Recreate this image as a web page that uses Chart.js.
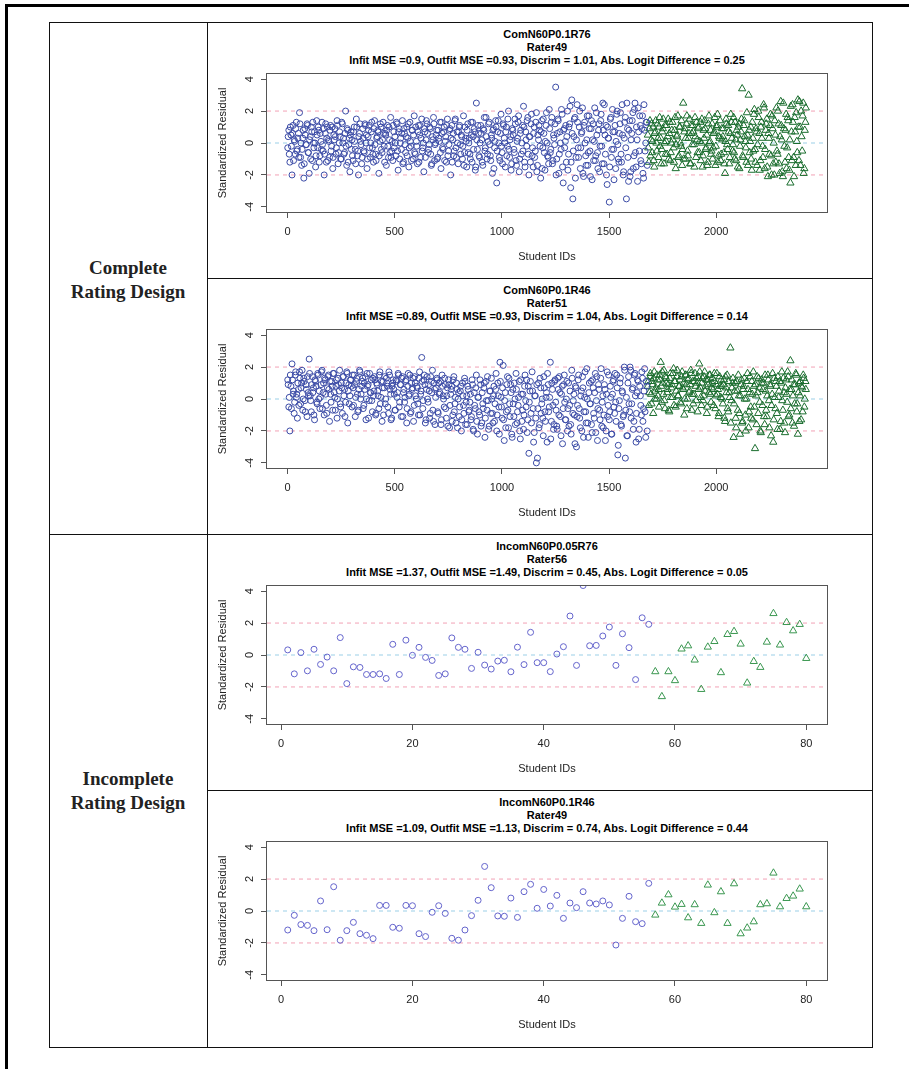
<!DOCTYPE html>
<html lang="en">

<head>
    <meta charset="UTF-8">
    <meta name="viewport" content="width=device-width, initial-scale=1.0">
    <title>Standardized Residual plots</title>
    <script src="https://cdn.jsdelivr.net/npm/chart.js"></script>
    <style>
        body {
            margin: 0;
            width: 909px;
            height: 1069px;
            background: #fff;
            position: relative;
            overflow: hidden;
            font-family: "Liberation Sans", Arial, sans-serif;
        }

        .moldura {
            position: absolute;
            left: 5px;
            top: 4px;
            width: 940px;
            height: 1100px;
            border-top: 3px solid #000;
            border-left: 3px solid #000;
        }

        .tabela {
            position: absolute;
            left: 49px;
            top: 22px;
            width: 824px;
            height: 1026px;
            box-sizing: border-box;
            border: 1px solid #111;
        }

        .linha {
            position: absolute;
            background: #111;
        }

        .design {
            position: absolute;
            left: 49px;
            width: 158px;
            text-align: center;
            font-family: "Liberation Serif", "Times New Roman", serif;
            font-weight: bold;
            font-size: 19px;
            line-height: 24px;
            color: #222;
        }

        .titulo {
            position: absolute;
            left: 267px;
            width: 560px;
            text-align: center;
            font-weight: bold;
            font-size: 11px;
            line-height: 13px;
            color: #000;
            white-space: nowrap;
        }

        canvas {
            position: absolute;
            left: 208px;
        }
    </style>
</head>

<body>

    <div class="moldura"></div>
    <div class="tabela"></div>
    <div class="linha" style="left: 207px; top: 22px; width: 1px; height: 1026px;"></div>
    <div class="linha" style="left: 207px; top: 278px; width: 666px; height: 1px;"></div>
    <div class="linha" style="left: 49px; top: 534px; width: 824px; height: 1px;"></div>
    <div class="linha" style="left: 207px; top: 790px; width: 666px; height: 1px;"></div>

    <div class="design" style="top: 256px;">Complete<br>Rating Design</div>
    <div class="design" style="top: 767px;">Incomplete<br>Rating Design</div>

    <div class="titulo" style="top: 28px;">ComN60P0.1R76<br>Rater49<br>Infit MSE =0.9, Outfit MSE =0.93, Discrim = 1.01, Abs. Logit Difference = 0.25</div>
    <div class="titulo" style="top: 284px;">ComN60P0.1R46<br>Rater51<br>Infit MSE =0.89, Outfit MSE =0.93, Discrim = 1.04, Abs. Logit Difference = 0.14</div>
    <div class="titulo" style="top: 540px;">IncomN60P0.05R76<br>Rater56<br>Infit MSE =1.37, Outfit MSE =1.49, Discrim = 0.45, Abs. Logit Difference = 0.05</div>
    <div class="titulo" style="top: 796px;">IncomN60P0.1R46<br>Rater49<br>Infit MSE =1.09, Outfit MSE =1.13, Discrim = 0.74, Abs. Logit Difference = 0.44</div>

    <canvas id="g1" width="663" height="256" style="top: 22px;"></canvas>
    <canvas id="g2" width="663" height="256" style="top: 278px;"></canvas>
    <canvas id="g3" width="663" height="256" style="top: 534px;"></canvas>
    <canvas id="g4" width="663" height="256" style="top: 790px;"></canvas>

</body>

</html>

<script>
    // complete design: values in tenths, read every 5th student id, two passes
    // pass A: blue ids 1, 6, 11 ... 1676 / green ids 1681 ... 2416
    // pass B: blue ids 3, 8, 13 ... 1678 / green ids 1683 ... 2418
    const denseStep = 5;
    const denseFirstBlueA = 1;
    const denseFirstBlueB = 3;
    const denseFirstGreenA = 1681;
    const denseFirstGreenB = 1683;
    const denseN = 2420;

    const comR76BlueA = [
        -3, 8, -12, 5, -20, 11, 2, -7, 13, -4,
        6, 19, -9, -14, 3, -22, 9, -1, 12, -6,
        -19, 4, 10, -11, 0, 7, -15, 14, -3, 8,
        -8, 1, 13, -5, -20, 6, -12, 10, 2, -9,
        11, -2, -16, 5, 9, -7, 14, -13, 0, 4,
        -10, 12, 3, -6, 20, -14, 8, -1, -18, 7,
        2, -11, 10, -4, 15, -8, -20, 6, 1, -13,
        9, -5, 12, 0, -16, 4, 11, -9, 7, -3,
        -12, 14, -7, 3, 8, -19, 1, 10, -6, 13,
        -2, 6, -14, 11, -9, 2, 16, -5, -11, 7,
        4, -8, 12, -17, 9, 0, -4, 14, -12, 6,
        -6, 10, 3, -15, 13, -2, 8, -10, 17, -7,
        1, -13, 11, 5, -9, 15, -3, -18, 7, 2,
        12, -6, -1, 9, -14, 4, 16, -11, 0, 8,
        -9, 3, 13, -16, 6, -4, 10, 1, -12, 15,
        -5, 8, -20, 11, 2, -8, 14, -3, 7, -13,
        10, -1, 5, -10, 17, -6, 3, -15, 12, 0,
        -7, 13, -12, 4, 9, -17, 25, -4, 6, -9,
        11, 2, -14, 8, -5, 16, -10, 1, 13, -8,
        5, -19, 9, -3, 14, -25, 7, 0, -11, 18,
        -6, 12, 3, -15, 10, -2, 20, -9, 4, -13,
        8, -4, 15, -11, 1, 13, -18, 6, -7, 11,
        23, -12, 7, -2, 16, -20, 4, 12, -8, -15,
        10, -5, 19, -14, 2, 8, -22, 14, -3, 6,
        -17, 11, 0, -9, 21, -6, 13, -13, 5, -1,
        35, -10, 15, -19, 7, -4, 18, -25, 9, 1,
        -12, 20, -7, 12, -28, 27, -35, 4, 16, -9,
        24, -3, 10, -16, 6, 22, -21, 13, -8, 2,
        -14, 17, -5, 9, -23, 12, 1, -11, 19, -6,
        8, -18, 14, -2, 25, -13, 5, 11, -26, 3,
        -37, 15, -9, 21, -4, 7, -16, 18, -1, -12,
        12, -7, 24, -20, 3, 16, -35, 9, -24, 14,
        -18, 6, 19, -8, 25, -15, 2, 22, -5, 11,
        -13, 17, -22, 8, 0, 13
    ];
    const comR76BlueB = [
        4, -7, 10, -2, 6, -11, 1, 9, -5, 3,
        -9, 12, 0, -4, 8, -13, 5, -1, 11, -6,
        2, -10, 7, 13, -3, 0, -8, 5, 10, -12,
        6, -4, -1, 9, -7, 12, 3, -11, 1, 8,
        -5, 10, -9, 2, 4, -3, 11, -6, 7, -10,
        13, 0, -7, 6, -2, 9, -12, 3, 5, -4,
        -8, 7, 1, -13, 10, -5, 4, 12, -1, -9,
        3, -6, 11, 5, -10, 8, -3, 0, 13, -7,
        9, -1, -11, 4, 7, -8, 12, -4, 2, 6,
        -12, 5, 8, -2, 10, -6, -9, 1, 11, -3,
        0, 13, -5, 7, -10, 3, 6, -13, 9, -1,
        4, -8, 12, -3, 1, -11, 8, 5, -6, 10,
        -2, 7, -12, 11, 3, -5, 0, 9, -9, 14,
        6, -4, 10, -7, -13, 2, 12, -1, 5, -10,
        8, 1, -6, 13, -3, 7, -11, 4, 11, -8,
        -1, 9, 3, -12, 6, -5, 15, -9, 0, 7,
        11, -7, 4, -2, -14, 10, 1, 8, -6, 3,
        -10, 5, 13, -4, 7, -15, 2, 11, -8, 0,
        6, -12, 9, 16, -3, 4, -7, 12, -1, -11,
        3, 8, -16, 1, 10, -5, 14, -9, 6, -2,
        -13, 11, 0, 7, -8, 15, -4, 2, -17, 9,
        5, -6, 12, -14, 3, 17, -10, 8, 0, -5,
        10, -15, 2, 14, -7, 4, -12, 18, -3, 6,
        -9, 13, -18, 5, 11, -2, 7, -16, 15, -6,
        1, 19, -8, -13, 9, -4, 16, -11, 3, 12,
        -20, 6, 14, -7, 0, 21, -15, 8, -3, 11,
        4, -17, 10, 23, -12, 6, -5, 15, -22, 2,
        13, -9, 20, -3, 7, -19, 11, 0, -14, 17,
        -6, 9, -21, 14, 2, -11, 22, -8, 5, -16,
        12, -2, 18, -13, 8, 24, -7, -20, 10, 3,
        -15, 16, -4, 7, -23, 11, 1, 20, -10, 6,
        19, -12, 5, -18, 13, -3, 25, -9, 8, -21,
        2, 14, -16, 21, -6, 10, -24, 7, 17, -11,
        9, -19, 24, -5, 13, -14
    ];

    const comR76GreenA = [
        5, -12, 14, 2, -6, 10, -15, 7, 0, 12,
        -9, 16, 3, -4, 9, -13, 11, 1, -7, 15,
        6, -11, 0, 13, -3, 8, -16, 4, 17, -8,
        10, -2, -14, 25, 7, -10, 12, -5, 3, 15,
        -13, 6, 11, -1, 16, -9, 2, 9, -6, 13,
        0, -15, 8, 14, -4, 5, -12, 17, 1, -7,
        12, -3, 7, -14, 10, 18, -8, 3, -11, 9,
        4, -6, -19, 15, -1, 11, -13, 6, 13, -5,
        16, -10, 2, 8, -15, 12, -2, 7, 34, -9,
        14, 1, -12, 5, 30, -6, 10, -17, 3, 18,
        -4, 9, -14, 20, 6, -11, 13, -2, 24, -16,
        8, 15, -21, 3, 11, -8, 17, -13, -20, 5,
        22, -7, 12, -19, 26, 2, -21, 9, -12, 18,
        -3, 14, -17, -25, 7, 24, -9, 16, -14, 1,
        27, -11, 10, 20, -5, 25, -16, 13
    ];
    const comR76GreenB = [
        -3, 9, -8, 12, 1, -11, 6, 14, -5, 3,
        10, -2, -13, 7, 15, 0, -7, 11, 4, -10,
        13, -6, 8, 2, -12, 16, -1, 5, -9, 10,
        0, 14, -4, -10, 9, 3, 17, -8, 6, -13,
        11, -1, 7, -15, 4, 13, -6, 10, 1, -11,
        15, -8, 3, 9, -3, -14, 12, 0, 8, -5,
        -10, 6, 16, -2, 11, -12, 4, 14, -7, 2,
        9, -13, 1, 12, -4, 7, -9, 18, 3, -1,
        -6, 13, -11, 5, 10, -16, 2, 15, -8, 11,
        4, -3, 19, -14, 8, 1, -10, 13, -5, 21,
        -12, 7, -1, 16, -17, 10, 3, -9, 22, -4,
        12, -15, 6, -7, 18, -20, 9, 0, 14, -12,
        -5, 20, -13, 4, 11, -18, 25, -2, 8, -16,
        16, -9, 2, 23, -11, 13, -21, 7, 19, -6,
        10, 26, -14, 4, 17, -19, 8, 22
    ];

    const comR46BlueA = [
        12, -5, -20, 8, 22, 3, -9, 15, 1, -12,
        6, 17, -3, 10, -7, 13, -1, 9, -11, 4,
        25, 2, -8, 14, 7, -13, 11, -2, 16, 0,
        -6, 9, 18, 4, -10, 12, -4, 7, 15, -14,
        3, 11, -7, 16, 1, 8, -12, 13, 5, -3,
        10, -9, 14, 6, -2, 17, -15, 9, 2, 12,
        -5, 7, 15, -11, 11, 3, -7, 18, 0, 8,
        13, -4, 6, -13, 16, 9, -1, 4, 12, -8,
        2, 14, -10, 10, 5, -6, 17, 1, -14, 11,
        7, -3, 13, 8, -9, 15, 3, -12, 10, 6,
        -7, 12, 1, 16, -5, 9, -11, 14, 4, -2,
        11, -15, 8, 2, 15, -8, 6, 13, -4, 10,
        0, 7, -10, 17, 3, 26, -6, 12, 9, -13,
        14, -2, 5, -9, 11, 18, -14, 6, 1, 13,
        -8, 10, 4, -16, 15, 2, -5, 9, -12, 7,
        12, -18, 3, 8, -10, 14, -3, -15, 6, 0,
        -11, 5, -20, 10, -4, 13, -16, 2, 8, -8,
        -2, -13, 12, -19, 4, -6, 15, -22, 1, -10,
        9, -15, -3, 7, -24, 11, -7, -1, -17, 5,
        13, -9, 2, -14, 6, -20, 10, -5, 23, 1,
        -12, 21, -26, 4, -8, 14, -18, -3, 9, -22,
        6, -11, 0, 16, -15, -4, 11, -25, 3, -7,
        -19, 8, -1, 12, -13, -34, 5, -9, 17, -6,
        -21, 2, -40, -37, 10, -16, 7, -3, -12, 14,
        -8, 1, -27, 9, -5, 23, -14, 6, -19, 11,
        -2, -17, 13, -10, 4, -23, 8, -6, 15, -13,
        0, -20, 10, -4, -16, 18, -9, 3, -28, 7,
        -11, 12, -6, -18, 5, 14, -24, 1, -8, 19,
        -15, 4, -3, 11, -21, 7, -12, 16, -1, -26,
        9, -7, 13, -17, 2, -10, 6, -20, 17, -4,
        -13, 8, -22, 3, 12, -9, -2, 15, -35, -6,
        10, -16, 5, -11, 20, -37, 1, -23, 14, -8,
        18, -3, 7, -14, 16, -27, 4, 11, -19, 2,
        -10, 13, -6, 19, -24, 8
    ];
    const comR46BlueB = [
        9, 1, 15, -6, 12, 5, -2, 17, 3, 10,
        -4, 13, 7, 18, 0, 11, -8, 6, 14, 2,
        16, -1, 9, 4, -10, 12, 8, -3, 15, 5,
        1, 17, -6, 10, 13, 3, -9, 14, 6, 11,
        -2, 8, 16, 4, -7, 12, 0, 9, 18, -5,
        7, 14, 2, -11, 10, 16, 5, -3, 12, 8,
        15, -4, 9, 1, 13, -8, 6, 17, 3, 11,
        -6, 10, 14, 0, 8, -12, 16, 4, -1, 13,
        5, 12, -9, 9, 2, 15, -3, 11, 7, -10,
        14, 0, 10, -5, 17, 6, -13, 8, 12, 3,
        -7, 11, 4, 15, -2, 9, 13, -11, 6, 1,
        12, -6, 16, 3, -9, 10, 7, -14, 14, 2,
        8, -3, 13, -10, 5, 11, -1, 15, -15, 6,
        0, 9, -12, 14, 4, -7, 10, -16, 7, 12,
        -9, 3, 11, -13, 8, 0, 13, -6, 2, -17,
        9, -4, 6, -14, 12, -8, 1, 10, -18, 4,
        -5, 8, -13, 2, -9, 11, -2, -16, 6, -7,
        3, -11, 9, -20, -4, 7, -14, 1, -8, 12,
        -17, 4, -6, 10, -12, -1, 14, -19, 5, -9,
        0, -15, 8, -3, 16, -10, 2, -22, 11, -5,
        7, -13, -1, -18, 9, -7, 13, -11, 4, -24,
        -3, 10, -16, 6, -8, 1, -20, 12, -14, 3,
        -10, 15, -5, -21, 8, -2, 11, -15, 5, -27,
        2, -12, 9, -6, -18, 13, -9, 0, -23, 7,
        -14, 4, 16, -8, 1, -25, 10, -4, -16, 12,
        -7, -19, 6, 14, -11, 3, -28, 9, -2, -13,
        11, -6, -17, 5, -22, 13, -1, -10, 8, -30,
        -4, 15, -12, 2, -20, 7, -8, 17, -15, 0,
        -24, 10, -3, -16, 12, -9, 4, -21, 14, -6,
        6, -13, 19, -2, -18, 9, -26, 3, -11, 15,
        -8, 1, -22, 11, -5, 16, -14, 7, -29, -1,
        13, -17, 4, -10, 18, -7, -23, 10, -3, 20,
        -12, 6, -19, 15, 2, -9, 12, -25, 8, -4,
        17, -14, 5, -8, 11, -20
    ];

    const comR46GreenA = [
        8, -4, 14, 3, 11, -9, 17, 5, 0, 12,
        6, 15, 23, -2, 10, 18, -6, 13, 4, 9,
        -8, 16, 7, 1, 19, 11, -5, 14, 2, 8,
        12, -3, 17, 6, -10, 15, 9, 0, 13, 5,
        18, -7, 11, 3, 16, -1, 10, 14, 22, 7,
        -4, 13, 2, 17, 8, -9, 12, 4, 15, -2,
        10, 6, 16, -6, 9, 3, -11, 14, 1, 8,
        -3, 12, -14, 7, 15, -8, 4, 32, -1, 10,
        -24, 5, -12, 11, -7, 2, -22, 9, -15, 6,
        13, -10, 0, 16, -18, 4, -5, 11, -13, 8,
        -31, 2, 14, -9, 7, -20, 12, -4, 10, -16,
        5, -11, 15, -1, 9, -23, 3, -27, 13, -6,
        8, -19, 1, 11, -14, 17, -7, 4, -21, 12,
        -2, 14, -10, 24, 6, -15, 9, -3, 16, -8,
        -22, 10, 2, -13, 7, 15, -5, 11
    ];
    const comR46GreenB = [
        11, 4, 16, -3, 9, 13, 0, 7, 15, 2,
        -5, 12, 8, 17, 3, -1, 14, 10, 6, -7,
        13, 1, 9, 16, -4, 11, 5, 18, 2, 8,
        -2, 14, 7, 10, 0, 15, -6, 12, 4, 9,
        16, 3, -3, 11, 8, 13, -8, 6, 17, 1,
        10, -1, 14, 5, 12, -5, 9, 15, 3, 7,
        13, -4, 11, 2, 16, 6, -9, 8, 12, 0,
        9, -12, 14, 4, -6, 11, 1, -15, 7, 13,
        -3, 10, -18, 5, 15, -9, 2, 12, -14, 8,
        0, -20, 11, 6, -8, 14, -12, 3, 17, -5,
        9, -16, 4, 13, -2, -21, 10, 6, -11, 15,
        -7, 2, 12, -18, 8, -4, 16, -13, 1, 11,
        -9, 14, 5, -19, 10, -1, 13, -15, 7, 3,
        17, -11, 6, -6, 12, 2, -17, 9, 15, -3,
        4, -14, 11, 8, -8, 13, 0, 6
    ];

    // incomplete design: every student id 1..80 (blue 1-56, green 57-80)
    const sparseFirstGreen = 57;
    const sparseN = 80;

    const incomR76Blue = [
        0.32, -1.18, 0.15, -0.99, 0.36, -0.59, -0.13, -0.99, 1.09, -1.79,
        -0.74, -0.78, -1.22, -1.22, -1.18, -1.47, 0.67, -1.22, 0.93, -0.02,
        0.48, -0.15, -0.34, -1.28, -1.18, 1.07, 0.48, 0.36, -0.84, 0.17,
        -0.63, -0.88, -0.38, -0.33, -1.05, 0.49, -0.6, 1.42, -0.48, -0.48,
        -1.04, 0.06, 0.52, 2.44, -0.65, 4.35, 0.58, 0.6, 1.19, 1.75,
        -0.65, 1.33, 0.46, -1.54, 2.33, 1.92
    ];
    const incomR76Green = [
        -1.04, -2.6, -1.04, -1.6, 0.38, 0.58, -0.31, -2.15, 0.5, 0.85,
        -1.1, 1.29, 1.48, 0.69, -1.75, -0.4, -0.77, 0.81, 2.6, 0.63,
        2.04, 1.52, 1.92, -0.21
    ];

    const incomR46Blue = [
        -1.19, -0.27, -0.85, -0.9, -1.23, 0.63, -1.17, 1.52, -1.83, -1.23,
        -0.71, -1.42, -1.52, -1.73, 0.35, 0.35, -1.02, -1.08, 0.35, 0.33,
        -1.42, -1.6, -0.08, 0.33, -0.15, -1.71, -1.83, -1.19, -0.29, 0.67,
        2.79, 1.46, -0.31, -0.33, 0.81, -0.4, 1.21, 1.67, 0.17, 1.35,
        0.31, 0.98, -0.46, 0.5, 0.21, 1.21, 0.5, 0.44, 0.63, 0.38,
        -2.13, -0.46, 0.92, -0.67, -0.79, 1.73
    ];
    const incomR46Green = [
        -0.25, 0.5, 1.02, 0.25, 0.42, -0.42, 0.4, -0.77, 1.63, -0.1,
        1.21, -0.77, 1.71, -1.42, -1.06, -0.67, 0.4, 0.46, 2.38, 0.27,
        0.79, 0.94, 1.38, 0.27
    ];

    const xTicksCom = [0, 500, 1000, 1500, 2000];
    const xTicksIncom = [0, 20, 40, 60, 80];
    const yTicks = [-4, -2, 0, 2, 4];
    const refLines = [2, 0, -2];

    const fonte = '"Liberation Sans", Arial, sans-serif';
    const corEixo = '#555';
    const corTexto = '#222';

    function denseSeries(valores, primeiroId) {
        return valores.map((v, i) => ({ x: primeiroId + i * denseStep, y: v / 10 }));
    }

    function sparseSeries(valores, primeiroId) {
        return valores.map((v, i) => ({ x: primeiroId + i, y: v }));
    }

    // R style axis range (4% on each side)
    function faixa(min, max) {
        const d = (max - min) * 0.04;
        return [min - d, max + d];
    }

    // box around the plot region, like box() in R
    const caixaPlugin = {
        id: 'caixa',
        afterDatasetsDraw(chart) {
            const a = chart.chartArea;
            const ctx = chart.ctx;
            ctx.save();
            ctx.strokeStyle = corEixo;
            ctx.lineWidth = 1;
            ctx.strokeRect(Math.round(a.left) - 0.5, Math.round(a.top) - 0.5,
                Math.round(a.right - a.left) + 1, Math.round(a.bottom - a.top) + 1);
            ctx.restore();
        }
    };

    function linhaRef(y, xr) {
        return {
            data: [{ x: xr[0], y: y }, { x: xr[1], y: y }],
            showLine: true,
            pointRadius: 0,
            borderColor: y === 0 ? '#9bcfe8' : '#f2a2b6',
            borderWidth: 1,
            borderDash: [4, 4],
            clip: 0
        };
    }

    function plotarGrafico(id, azul, verde, xr, xTicks, cores) {
        const yr = faixa(-4, 4);
        const datasets = [
            {
                data: azul,
                pointStyle: 'circle',
                pointRadius: 3,
                borderWidth: 1,
                borderColor: cores[0],
                backgroundColor: 'rgba(0,0,0,0)',
                clip: 0
            },
            {
                data: verde,
                pointStyle: 'triangle',
                pointRadius: 4.2,
                borderWidth: 1,
                borderColor: cores[1],
                backgroundColor: 'rgba(0,0,0,0)',
                clip: 0
            }
        ];
        refLines.forEach(v => datasets.push(linhaRef(v, xr)));

        const config = {
            type: 'scatter',
            data: { datasets: datasets },
            plugins: [caixaPlugin],
            options: {
                responsive: false,
                animation: false,
                events: [],
                devicePixelRatio: 1,
                layout: { padding: { left: 0, right: 44, top: 52, bottom: 0 } },
                plugins: {
                    legend: { display: false },
                    tooltip: { enabled: false }
                },
                scales: {
                    x: {
                        type: 'linear',
                        min: xr[0],
                        max: xr[1],
                        afterBuildTicks: s => { s.ticks = xTicks.map(v => ({ value: v })); },
                        afterFit: s => { s.height = 66; },
                        grid: { drawOnChartArea: false, drawTicks: true, tickLength: 6, color: corEixo },
                        border: { display: false },
                        ticks: {
                            autoSkip: false, maxRotation: 0, padding: 7, color: corTexto,
                            font: { family: fonte, size: 11 },
                            callback: v => String(v)
                        },
                        title: {
                            display: true, text: 'Student IDs', color: corTexto,
                            font: { family: fonte, size: 11 },
                            padding: { top: 0, bottom: 14 }
                        }
                    },
                    y: {
                        type: 'linear',
                        min: yr[0],
                        max: yr[1],
                        afterBuildTicks: s => { s.ticks = yTicks.map(v => ({ value: v })); },
                        afterFit: s => { s.width = 59; },
                        grid: { drawOnChartArea: false, drawTicks: true, tickLength: 6, color: corEixo },
                        border: { display: false },
                        ticks: {
                            autoSkip: false, minRotation: 90, maxRotation: 90, crossAlign: 'center',
                            padding: 6, color: corTexto,
                            font: { family: fonte, size: 11 },
                            callback: v => String(v)
                        },
                        title: {
                            display: true, text: 'Standardized Residual', color: corTexto,
                            font: { family: fonte, size: 11 },
                            padding: { top: 8, bottom: 0 }
                        }
                    }
                }
            }
        };

        return new Chart(document.getElementById(id), config);
    }

    const faixaCom = faixa(1, denseN);
    const faixaIncom = faixa(1, sparseN);

    plotarGrafico('g1',
        denseSeries(comR76BlueA, denseFirstBlueA).concat(denseSeries(comR76BlueB, denseFirstBlueB)),
        denseSeries(comR76GreenA, denseFirstGreenA).concat(denseSeries(comR76GreenB, denseFirstGreenB)),
        faixaCom, xTicksCom, ['#3b4ba6', '#1a6d2e']);
    plotarGrafico('g2',
        denseSeries(comR46BlueA, denseFirstBlueA).concat(denseSeries(comR46BlueB, denseFirstBlueB)),
        denseSeries(comR46GreenA, denseFirstGreenA).concat(denseSeries(comR46GreenB, denseFirstGreenB)),
        faixaCom, xTicksCom, ['#3b4ba6', '#1a6d2e']);
    plotarGrafico('g3', sparseSeries(incomR76Blue, 1), sparseSeries(incomR76Green, sparseFirstGreen),
        faixaIncom, xTicksIncom, ['#6464cc', '#3a9750']);
    plotarGrafico('g4', sparseSeries(incomR46Blue, 1), sparseSeries(incomR46Green, sparseFirstGreen),
        faixaIncom, xTicksIncom, ['#6464cc', '#3a9750']);
</script>
